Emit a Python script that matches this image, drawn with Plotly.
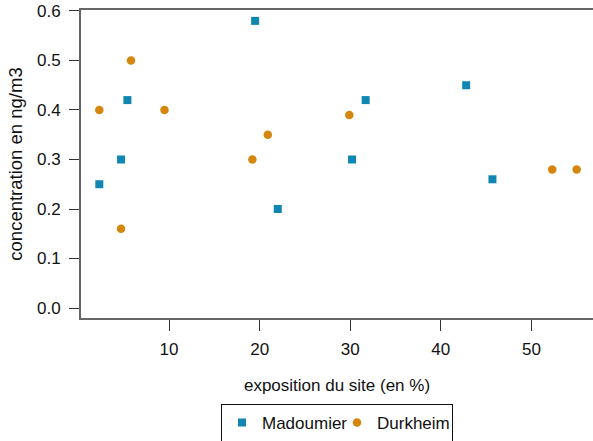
import plotly.graph_objects as go

# Data
mad_x = [2.3, 4.7, 5.4, 19.5, 22.0, 30.2, 31.7, 42.8, 45.7]
mad_y = [0.25, 0.30, 0.42, 0.58, 0.20, 0.30, 0.42, 0.45, 0.26]

dur_x = [2.3, 4.7, 5.8, 9.5, 19.2, 20.9, 29.9, 52.3, 55.0]
dur_y = [0.40, 0.16, 0.50, 0.40, 0.30, 0.35, 0.39, 0.28, 0.28]

x_ticks = [10, 20, 30, 40, 50]
y_ticks = [0.0, 0.1, 0.2, 0.3, 0.4, 0.5, 0.6]

BLUE = "#1086b1"
ORANGE = "#d5860f"
FONT = "Liberation Sans, Arial, sans-serif"

fig = go.Figure()
fig.add_trace(go.Scatter(x=mad_x, y=mad_y, mode="markers", name="Madoumier",
                         marker=dict(symbol="square", size=8, color=BLUE, line=dict(width=0))))
fig.add_trace(go.Scatter(x=dur_x, y=dur_y, mode="markers", name="Durkheim",
                         marker=dict(symbol="circle", size=8.5, color=ORANGE, line=dict(width=0))))

fig.update_layout(
    width=593, height=441,
    margin=dict(l=81, r=0, t=10, b=123, autoexpand=False),
    paper_bgcolor="white", plot_bgcolor="white",
    font=dict(family=FONT, size=17, color="#111"),
    showlegend=True,
    legend=dict(orientation="h", x=0.5, xanchor="center", y=-0.279, yanchor="top",
                bordercolor="#111", borderwidth=1, font=dict(size=17, family=FONT),
                itemwidth=30, tracegroupgap=0, entrywidth=70, entrywidthmode="pixels"),
)
fig.update_xaxes(
    range=[0.28, 56.8], tickvals=x_ticks, ticks="outside", ticklen=11, tickwidth=1, tickcolor="#333",
    showline=True, linecolor="#666", linewidth=2, mirror=True, showgrid=False, zeroline=False,
    tickfont=dict(size=17), ticklabelstandoff=4, automargin=False,
    title=dict(text="exposition du site (en %)", font=dict(size=17), standoff=21),
)
fig.update_yaxes(
    range=[-0.0202, 0.602], tickvals=y_ticks, tickformat=".1f", ticks="outside", ticklen=10, tickwidth=1,
    tickcolor="#333", showline=True, linecolor="#666", linewidth=2, mirror=False, showgrid=False,
    zeroline=False, tickfont=dict(size=17), ticklabelstandoff=5, automargin=False,
    title=dict(text="concentration en ng/m3", font=dict(size=18.5), standoff=9),
)

fig.write_html(
    "out.html",
    config={"displayModeBar": False},
    post_script="document.body.style.margin='0';document.body.style.overflow='hidden';",
)
